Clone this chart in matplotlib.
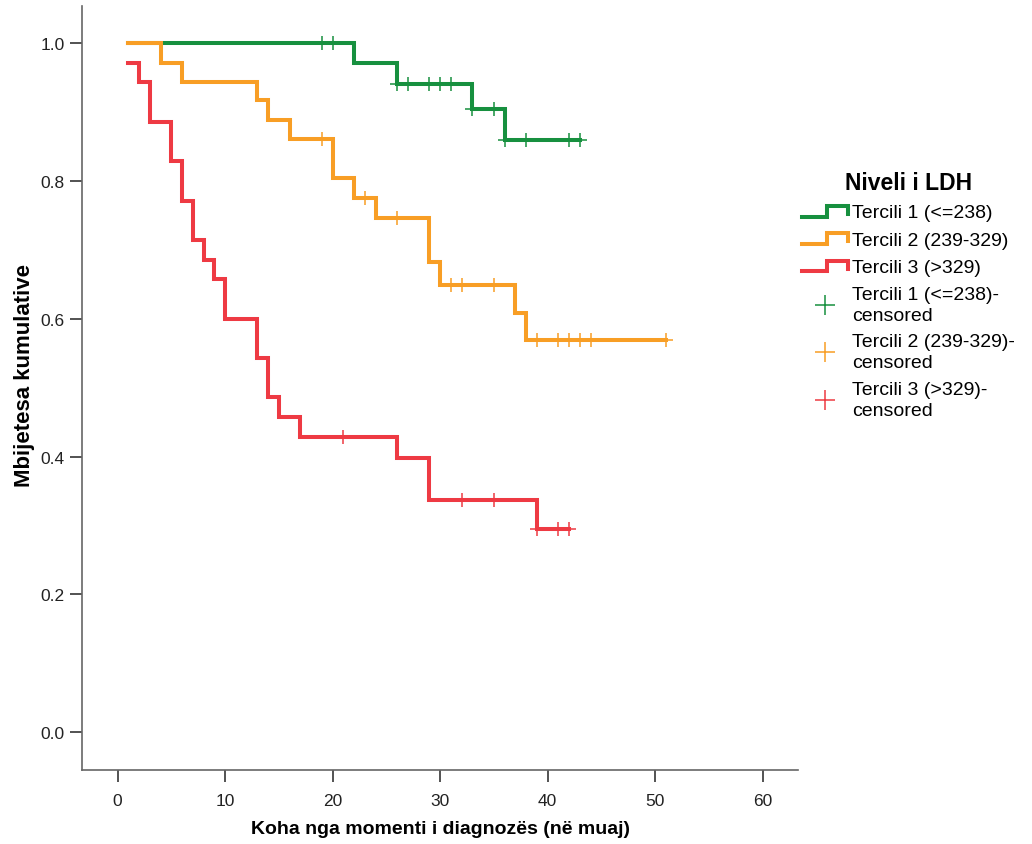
import numpy as np
import matplotlib
matplotlib.use("Agg")
import matplotlib.pyplot as plt
from matplotlib.lines import Line2D
from matplotlib.legend_handler import HandlerBase

plt.rcParams['font.family'] = ['Liberation Sans', 'DejaVu Sans']

# Kaplan-Meier steps (time in months, cumulative survival)
green_t = [1, 22, 26, 33, 36, 43]
green_s = [1.0, 0.971, 0.941, 0.904, 0.860, 0.860]
green_c = [19, 20, 26, 27, 29, 30, 31, 33, 35, 36, 38, 42, 43]

orange_t = [1, 4, 6, 13, 14, 16, 20, 22, 24, 29, 30, 37, 38, 51]
orange_s = [1.0, 0.972, 0.944, 0.917, 0.889, 0.861, 0.804, 0.776, 0.746,
            0.682, 0.649, 0.609, 0.569, 0.569]
orange_c = [19, 23, 26, 31, 32, 35, 39, 41, 42, 43, 44, 51]

red_t = [1, 2, 3, 5, 6, 7, 8, 9, 10, 13, 14, 15, 17, 26, 29, 39, 42]
red_s = [0.971, 0.943, 0.886, 0.829, 0.771, 0.714, 0.686, 0.657, 0.600,
         0.543, 0.486, 0.457, 0.429, 0.398, 0.337, 0.295, 0.295]
red_c = [21, 32, 35, 39, 41, 42]

labels = ["Tercili 1 (<=238)", "Tercili 2 (239-329)", "Tercili 3 (>329)"]
colors = ["#17903f", "#f89e25", "#ee3a43"]


class StepHandler(HandlerBase):
    def create_artists(self, legend, orig_handle, xdescent, ydescent,
                       width, height, fontsize, trans):
        x0, x1 = -xdescent, -xdescent + width
        xm = x0 + width * 0.55
        lo, hi = -ydescent + height * 0.05, -ydescent + height * 0.85
        ln = Line2D([x0, xm, xm, x1, x1], [lo, lo, hi, hi, lo + height * 0.2],
                    color=orig_handle.get_color(), lw=orig_handle.get_linewidth(),
                    solid_joinstyle='miter', transform=trans)
        return [ln]


fig = plt.figure(figsize=(10.32, 8.45), dpi=100)
ax = fig.add_axes([0.0795, 0.0876, 0.6938, 0.9041])

series = [(green_t, green_s, green_c), (orange_t, orange_s, orange_c),
          (red_t, red_s, red_c)]
line_handles = []
cens_handles = []
for (t, s, c), col, lab in zip(series, colors, labels):
    ln, = ax.step(t, s, where='post', color=col, lw=2.9, label=lab,
                  solid_joinstyle='miter')
    idx = np.searchsorted(t, c, side='right') - 1
    cy = np.array(s)[idx]
    mk, = ax.plot(c, cy, linestyle='none', marker='+', markersize=10,
                  mew=1.1, color=col, label=lab + "-\ncensored")
    line_handles.append(ln)
    cens_handles.append(mk)

ax.set_xlim(-3.3, 63.3)
ax.set_ylim(-0.055, 1.054)
ax.set_xticks([0, 10, 20, 30, 40, 50, 60])
ax.set_yticks([0.0, 0.2, 0.4, 0.6, 0.8, 1.0])
ax.set_yticklabels(["0.0", "0.2", "0.4", "0.6", "0.8", "1.0"])
ax.spines['top'].set_visible(False)
ax.spines['right'].set_visible(False)
for sp in ['left', 'bottom']:
    ax.spines[sp].set_color('#666666')
    ax.spines[sp].set_linewidth(1.2)
ax.tick_params(length=8.5, width=1.3, color='#444444', labelsize=12.5,
               labelcolor='#222222', pad=4)
ax.tick_params(axis='x', pad=8)

ax.set_xlabel("Koha nga momenti i diagnozës (në muaj)", fontsize=14,
              fontweight='bold', labelpad=9)
ax.set_ylabel("Mbijetesa kumulative", fontsize=16, fontweight='bold')
ax.yaxis.set_label_coords(-0.066, 0.518)

leg = fig.legend(line_handles + cens_handles,
                 [h.get_label() for h in line_handles + cens_handles],
                 handler_map={h: StepHandler() for h in line_handles},
                 loc='upper left', bbox_to_anchor=(0.76, 0.817),
                 frameon=False, fontsize=14, title="Niveli i LDH",
                 title_fontproperties={'weight': 'bold', 'size': 16.5},
                 handlelength=2.4, handletextpad=0.2, labelspacing=0.5,
                 markerscale=1.5)
for txt in leg.get_texts():
    txt.set_linespacing(1.3)

fig.savefig("out.png", dpi=100)
